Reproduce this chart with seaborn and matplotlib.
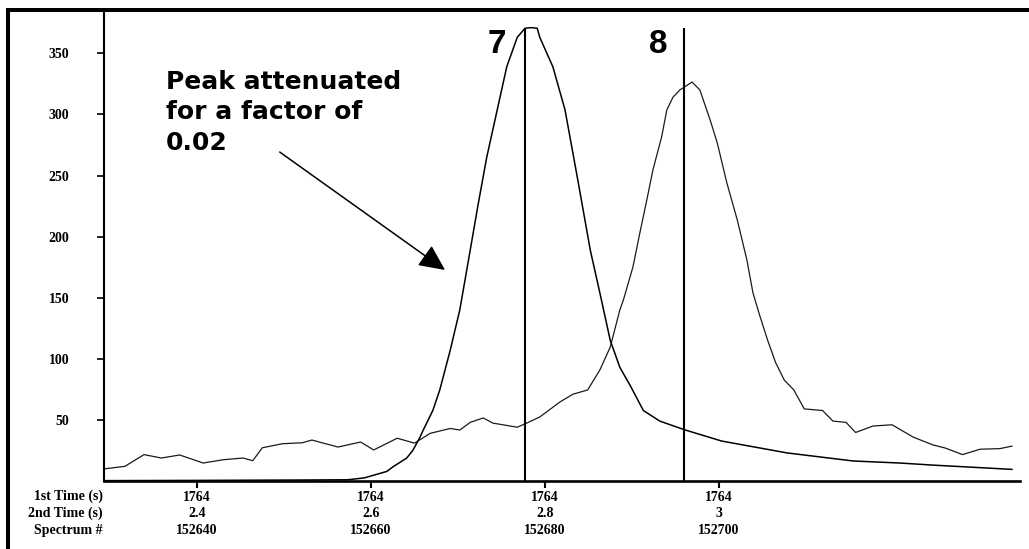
import matplotlib
matplotlib.use("Agg")
import matplotlib.pyplot as plt
from matplotlib.lines import Line2D
import seaborn as sns
import pandas as pd

# ---- data (spectrum number, intensity) ----
peak7_x = [152629.4, 152640.3, 152651.8, 152657.3, 152659.2, 152661.8, 152662.5, 152664.1,
           152664.8, 152665.6, 152666.0, 152667.1, 152667.9, 152669.1, 152670.2, 152671.4,
           152672.3, 152673.3, 152674.5, 152675.6, 152676.8, 152677.7, 152678.4, 152679.1,
           152679.4, 152680.9, 152682.3, 152683.8, 152685.2, 152686.3, 152687.5, 152688.6,
           152689.8, 152691.3, 152693.2, 152696.0, 152700.3, 152707.8, 152715.4, 152720.8,
           152724.6, 152728.5, 152733.7]
peak7_y = [0.3, 0.5, 0.8, 1.0, 2.5, 7.8, 11.5, 18.8,
           25.0, 35.5, 41.7, 57.7, 74.5, 107.0, 140.0, 189.0,
           226.0, 265.0, 303.6, 339.0, 363.0, 370.5, 371.0, 370.5,
           363.0, 339.0, 303.6, 245.0, 189.0, 154.0, 115.0, 93.0,
           78.0, 57.7, 49.0, 42.0, 32.7, 23.0, 16.4, 14.7,
           13.0, 11.5, 9.5]

peak8_x = [152629.4, 152631.7, 152633.9, 152635.9, 152638.0, 152640.7, 152643.0, 152645.3,
           152646.4, 152647.5, 152649.8, 152652.1, 152653.2, 152656.2, 152658.8, 152660.3,
           152663.0, 152665.0, 152666.8, 152669.1, 152670.2, 152671.4, 152672.9, 152674.0,
           152676.8, 152677.9, 152679.4, 152681.7, 152683.2, 152684.9, 152686.3, 152687.5,
           152688.6, 152689.0, 152690.1, 152690.9, 152691.7, 152692.4, 152693.4, 152694.0,
           152694.7, 152695.5, 152696.9, 152697.8, 152699.0, 152699.8, 152700.9, 152702.1,
           152703.2, 152703.9, 152704.7, 152705.6, 152706.5, 152707.5, 152708.6, 152709.8,
           152711.9, 152713.1, 152714.6, 152715.7, 152717.7, 152719.9, 152722.3, 152724.6,
           152726.0, 152728.0, 152730.0, 152732.3, 152733.7]
peak8_y = [10.0, 12.0, 21.6, 18.8, 21.3, 14.7, 17.4, 18.8,
           16.6, 27.2, 30.5, 31.3, 33.5, 27.8, 31.9, 25.4,
           35.0, 31.0, 39.0, 43.0, 41.7, 48.0, 51.6, 47.4,
           44.0, 47.4, 52.4, 64.6, 71.0, 74.5, 90.8, 109.7,
           140.0, 148.0, 175.0, 203.0, 230.0, 254.5, 281.5, 303.6,
           314.0, 320.0, 326.5, 320.0, 295.0, 276.6, 244.0, 213.6,
           181.0, 154.0, 135.0, 115.0, 97.0, 82.6, 74.5, 59.0,
           57.7, 49.0, 48.0, 39.7, 45.0, 46.0, 36.0, 29.5,
           27.0, 21.6, 26.0, 26.5, 28.6]

marker_x = [152677.7, 152696.0]
marker_labels = ["7", "8"]
marker_top = 370.7
label_x = [152674.5, 152693.0]
label_y = 350.5

xtick_spectrum = [152640, 152660, 152680, 152700]
xtick_time1 = ["1764", "1764", "1764", "1764"]
xtick_time2 = ["2.4", "2.6", "2.8", "3"]
ytick_vals = [50, 100, 150, 200, 250, 300, 350]
row_labels = ["1st Time (s)", "2nd Time (s)", "Spectrum #"]

annot_text = "Peak attenuated\nfor a factor of\n0.02"
annot_xy = (152636.4, 270.9)   # baseline of the last line
arrow_tail = (152649.5, 269.2)
arrow_tip = (152668.5, 172.7)

# ---- figure ----
sns.set_style("white")
W, H = 1029, 549
fig = plt.figure(figsize=(W / 100, H / 100), dpi=100)
ax = fig.add_axes([104 / W, 1 - 481 / H, (1020 - 104) / W, (481 - 12) / H])

df7 = pd.DataFrame({"x": peak7_x, "y": peak7_y})
df8 = pd.DataFrame({"x": peak8_x, "y": peak8_y})
sns.lineplot(data=df8, x="x", y="y", ax=ax, color="#1a1a1a", lw=0.9, estimator=None)
sns.lineplot(data=df7, x="x", y="y", ax=ax, color="black", lw=1.1, estimator=None)

ax.vlines(marker_x, 0, marker_top, colors="black", lw=1.5)
for lx, lab in zip(label_x, marker_labels):
    ax.text(lx, label_y, lab, ha="center", va="baseline", fontsize=24,
            fontweight="bold", family="Liberation Sans", color="black")

ax.text(annot_xy[0], annot_xy[1], annot_text, ha="left", va="baseline",
        fontsize=18, fontweight="bold", family="DejaVu Sans", linespacing=1.35,
        color="black")
ax.annotate("", xy=arrow_tip, xytext=arrow_tail,
            arrowprops=dict(arrowstyle="-|>,head_length=0.8,head_width=0.38",
                            mutation_scale=20, lw=1.1, color="black",
                            shrinkA=0, shrinkB=0))

ax.set_xlim(152629.3, 152734.6)
ax.set_ylim(0, 383.8)
ax.set_xlabel("")
ax.set_ylabel("")

ax.set_yticks(ytick_vals)
ax.set_yticklabels([str(v) for v in ytick_vals])
ax.set_xticks(xtick_spectrum)
ax.set_xticklabels([f"{a}\n{b}\n{c}" for a, b, c in zip(xtick_time1, xtick_time2, xtick_spectrum)],
                   linespacing=1.35)
ax.tick_params(axis="y", direction="out", length=5, width=1.2, left=True, pad=20, color="black")
ax.tick_params(axis="x", direction="out", length=5, width=1.5, bottom=True, pad=2, color="black")
for lbl in ax.get_xticklabels() + ax.get_yticklabels():
    lbl.set_fontfamily("Liberation Serif")
    lbl.set_fontweight("bold")
    lbl.set_fontsize(10)
    lbl.set_color("black")

for s in ["top", "right"]:
    ax.spines[s].set_visible(False)
ax.spines["left"].set_linewidth(1.5)
ax.spines["left"].set_color("black")
ax.spines["bottom"].set_linewidth(1.9)
ax.spines["bottom"].set_color("black")

# row labels for the three-line x tick labels
fig.text(103 / W, 1 - 489.5 / H, "\n".join(row_labels), ha="right", va="top",
         multialignment="right", fontsize=10, fontweight="bold",
         family="Liberation Serif", linespacing=1.35, color="black")

# outer frame (left and top edges)
fig.add_artist(Line2D([8 / W, 8 / W], [0, 1 - 8 / H], transform=fig.transFigure,
                      color="black", lw=2.9, solid_capstyle="butt"))
fig.add_artist(Line2D([6 / W, 1], [1 - 10.2 / H, 1 - 10.2 / H], transform=fig.transFigure,
                      color="black", lw=2.9, solid_capstyle="butt"))

fig.savefig("out.png", dpi=100)
